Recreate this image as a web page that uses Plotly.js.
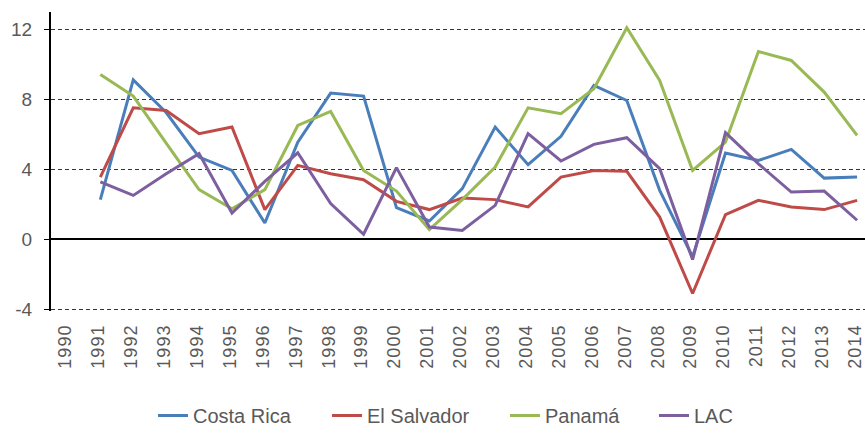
<!DOCTYPE html>
<html>
<head>
<meta charset="utf-8">
<script src="https://cdn.plot.ly/plotly-3.0.1.min.js"></script>
<style>
html,body{margin:0;padding:0;background:#fff;}
#chart{width:865px;height:435px;}
.xtick text{letter-spacing:1px;}
</style>
</head>
<body>
<div id="chart"></div>
<script>
var years = ["1990","1991","1992","1993","1994","1995","1996","1997","1998","1999","2000","2001","2002","2003","2004","2005","2006","2007","2008","2009","2010","2011","2012","2013","2014"];
var costaRica  = [null,2.27,9.12,7.25,4.7,3.94,0.93,5.56,8.36,8.19,1.81,1.05,2.9,6.42,4.27,5.89,8.8,7.94,2.8,-1.0,4.93,4.51,5.14,3.5,3.56];
var elSalvador = [null,3.56,7.52,7.37,6.04,6.42,1.7,4.23,3.75,3.41,2.17,1.7,2.36,2.27,1.85,3.56,3.94,3.89,1.27,-3.1,1.41,2.23,1.85,1.7,2.23];
var panama     = [null,9.43,8.19,5.5,2.84,1.75,2.84,6.51,7.31,3.94,2.76,0.55,2.27,4.13,7.52,7.18,8.61,12.1,9.09,3.94,5.56,10.74,10.23,8.42,5.94];
var lac        = [null,3.28,2.51,3.75,4.9,1.5,3.31,4.95,2.04,0.29,4.1,0.7,0.51,1.94,6.04,4.48,5.43,5.81,4.04,-1.16,6.1,4.32,2.7,2.76,1.09];
var seriesNames = ["Costa Rica","El Salvador","Panamá","LAC"];
var yTicks = [-4,0,4,8,12];

var colors = ["#4A7EBB","#BE4B48","#98B954","#7D5FA0"];
var dataSets = [costaRica, elSalvador, panama, lac];
var legendIds = ['legend','legend2','legend3','legend4'];
var legendX = [153, 327, 505, 654];
var traces = dataSets.map(function(d,i){
  return {x: years, y: d, name: seriesNames[i], type: 'scatter', mode: 'lines',
          line: {color: colors[i], width: 3}, connectgaps: false, legend: legendIds[i]};
});

var layout = {
  width: 865, height: 435,
  margin: {l: 51, r: 0, t: 12, b: 124},
  paper_bgcolor: '#fff', plot_bgcolor: '#fff',
  font: {family: 'Liberation Sans, Arial, sans-serif', color: '#595959'},
  showlegend: true,
  xaxis: {type: 'category', range: [-0.5, 24.24], showgrid: false, zeroline: false, showline: false,
          tickangle: -90, tickfont: {size: 18, color: '#595959'}, ticks: '', ticklabelstandoff: 9,
          ticklabelshift: -2},
  yaxis: {range: [-4.1, 13], tickvals: yTicks, ticktext: yTicks.map(String), showgrid: true,
          gridcolor: '#333', gridwidth: 1.2, griddash: '4px,3px',
          zeroline: true, zerolinecolor: '#000', zerolinewidth: 2,
          showline: true, linecolor: '#000', linewidth: 2,
          ticks: 'outside', ticklen: 5, tickcolor: '#000', tickwidth: 1.5,
          tickfont: {size: 19, color: '#595959'}, ticklabelstandoff: 8}
};
legendIds.forEach(function(id,i){
  layout[id] = {orientation: 'h', xref: 'container', yref: 'container', x: legendX[i]/865, xanchor: 'left',
                y: 0.0, yanchor: 'bottom', font: {size: 20, color: '#595959'}, bgcolor: 'rgba(0,0,0,0)'};
});
Plotly.newPlot('chart', traces, layout, {displayModeBar: false, staticPlot: true});
</script>
</body>
</html>
